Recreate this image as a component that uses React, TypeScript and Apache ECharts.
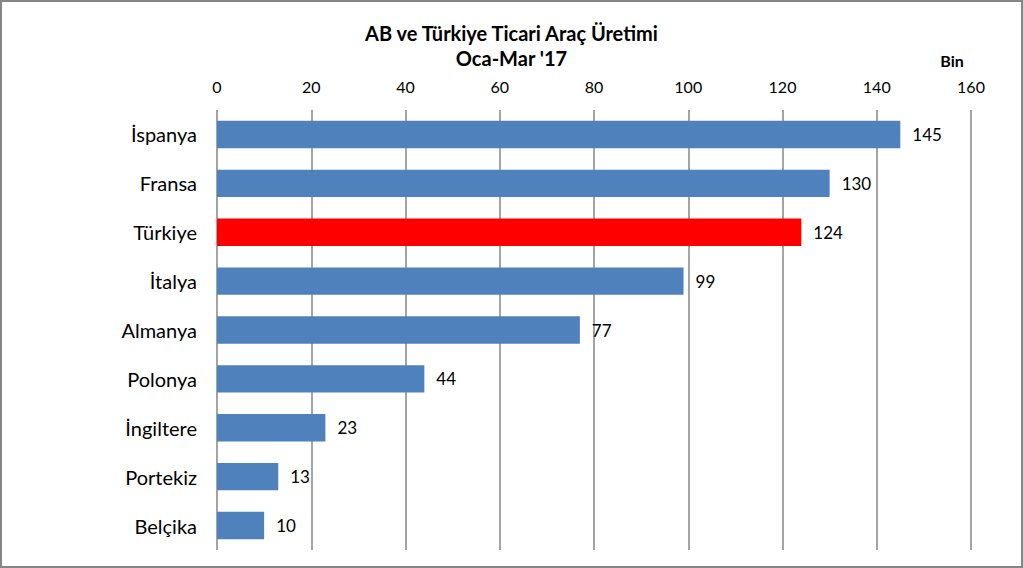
import React, { useEffect, useRef } from "react";
import * as echarts from "echarts";

const categories = ["İspanya", "Fransa", "Türkiye", "İtalya", "Almanya", "Polonya", "İngiltere", "Portekiz", "Belçika"];
const values = [145, 130, 124, 99, 77, 44, 23, 13, 10];
const highlight = "Türkiye";
const titleLines = ["AB ve Türkiye Ticari Araç Üretimi", "Oca-Mar '17"];
const unitLabel = "Bin";

const FONT = "Lato, 'Open Sans', sans-serif";

export default function App() {
  const ref = useRef<HTMLDivElement>(null);
  useEffect(() => {
    if (!ref.current) return;
    const chart = echarts.init(ref.current, undefined, { renderer: "svg" });
    chart.setOption({
      animation: false,
      backgroundColor: "#ffffff",
      title: {
        text: titleLines.join("\n"),
        left: "center",
        top: 15,
        textStyle: { fontFamily: FONT, fontSize: 20, fontWeight: "bold", color: "#000", lineHeight: 25 },
      },
      graphic: [
        {
          type: "rect",
          shape: { x: 1, y: 1, width: 1021, height: 566 },
          style: { fill: "none", stroke: "#868686", lineWidth: 2 },
          silent: true,
        },
        {
          type: "text",
          x: 952,
          y: 60,
          style: { text: unitLabel, fontFamily: FONT, fontSize: 16, fontWeight: "bold", fill: "#000", textAlign: "center", textVerticalAlign: "middle" },
        },
      ],
      grid: { left: 217, right: 52, top: 110, bottom: 18, containLabel: false },
      xAxis: {
        type: "value",
        position: "top",
        min: 0,
        max: 160,
        interval: 20,
        axisLine: { show: false },
        axisTick: { show: false },
        axisLabel: { fontFamily: FONT, fontSize: 16, color: "#000", margin: 16 },
        splitLine: { show: true, lineStyle: { color: "#868686", width: 1.5 } },
      },
      yAxis: {
        type: "category",
        data: categories,
        inverse: true,
        axisLine: { show: false },
        axisTick: { show: false },
        axisLabel: { fontFamily: FONT, fontSize: 20, color: "#000", margin: 20 },
      },
      series: [
        {
          type: "bar",
          data: values.map((v, i) => ({
            value: v,
            itemStyle: { color: categories[i] === highlight ? "#ff0000" : "#4f81bd" },
          })),
          barCategoryGap: "44%",
          label: {
            show: true,
            position: "right",
            distance: 12,
            fontFamily: FONT,
            fontSize: 17,
            color: "#000",
          },
        },
      ],
    });
    return () => chart.dispose();
  }, []);
  return (
    <div
      ref={ref}
      style={{ position: "absolute", left: 0, top: 0, width: 1023, height: 568 }}
    />
  );
}
